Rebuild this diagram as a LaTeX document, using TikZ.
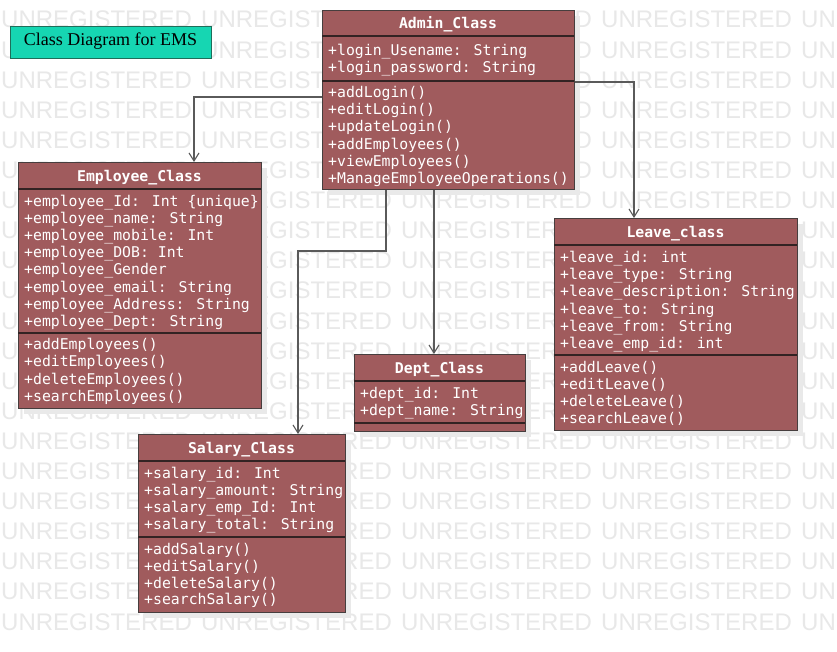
\documentclass[tikz,border=0pt]{standalone}
\usepackage{fontspec}
\setmainfont{Liberation Serif}
\newfontfamily\monofont{DejaVu Sans Mono}
\newfontfamily\wmfont{Liberation Sans}
\usetikzlibrary{arrows.meta}
\definecolor{classfill}{RGB}{160,91,93}
\definecolor{classedge}{RGB}{70,62,62}
\definecolor{sepline}{RGB}{50,35,35}
\definecolor{titlefill}{RGB}{22,214,178}
\definecolor{titleedge}{RGB}{30,110,90}
\definecolor{wmgray}{RGB}{232,232,232}
\definecolor{shadowgray}{RGB}{233,233,233}
\definecolor{connline}{RGB}{90,90,90}
\tikzset{
  classbox/.style={draw=classedge, line width=1.4pt, fill=classfill, rectangle, inner sep=0pt, anchor=north west},
  sepl/.style={draw=sepline, line width=2pt},
  membertxt/.style={anchor=base west, inner sep=0pt, yshift=-1.5pt, text=white, font=\monofont\fontsize{14.8}{17}\selectfont},
  classtitle/.style={anchor=base, inner sep=0pt, yshift=-1.5pt, text=white, font=\monofont\bfseries\fontsize{14.8}{17}\selectfont},
  conn/.style={draw=connline, line width=1.3pt, -{Straight Barb[length=8pt,width=10pt,line width=1.1pt]}},
  wm/.style={anchor=base west, inner sep=0pt, text=wmgray, font=\wmfont\fontsize{24}{24}\selectfont},
}
\begin{document}
\begin{tikzpicture}[x=1pt,y=-1pt]
\useasboundingbox (0,0) rectangle (837,652);
\fill[white] (0,0) rectangle (837,652);
% watermark
\begin{scope}
\clip (0,0) rectangle (837,652);
\foreach \r in {0,...,20}{
  \foreach \c in {0,...,4}{
    \node[wm] (wm-\r-\c) at ({1+200*\c},{28+30.1*\r}) {UNREGISTERED};
  }
}
\end{scope}
% title
\node[draw=titleedge, line width=1.2pt, fill=titlefill, minimum width=201pt, minimum height=32pt, inner sep=0pt, anchor=north west] (title) at (9.5,26) {};
\node[anchor=base, inner sep=0pt, font=\fontsize{18}{20}\selectfont] (title-txt) at (110.5,46) {Class Diagram for EMS};

% Admin_Class
\fill[shadowgray] (328,16) rectangle (580,195);
\node[classbox, minimum width=252pt, minimum height=179pt] (admin) at (322,10) {};
\draw[sepl] (322,36) -- (574,36);
\draw[sepl] (322,81) -- (574,81);
\node[classtitle] (admin-t) at (448,27) {Admin\_Class};
\foreach \t [count=\i from 0] in {+login\_Usename: String,+login\_password: String}
  \node[membertxt] (admin-a\i) at (328,{54+17.5*\i}) {\t};
\foreach \t [count=\i from 0] in {+addLogin(),+editLogin(),+updateLogin(),+addEmployees(),+viewEmployees(),+ManageEmployeeOperations()}
  \node[membertxt] (admin-m\i) at (328,{96+17.2*\i}) {\t};

% Employee_Class
\fill[shadowgray] (24,168) rectangle (267,414);
\node[classbox, minimum width=243pt, minimum height=246pt] (emp) at (18,162) {};
\draw[sepl] (18,189) -- (261,189);
\draw[sepl] (18,333) -- (261,333);
\node[classtitle] (emp-t) at (139.5,180) {Employee\_Class};
\foreach \t [count=\i from 0] in {+employee\_Id: Int \{unique\},+employee\_name: String,+employee\_mobile: Int,+employee\_DOB: Int,+employee\_Gender,+employee\_email: String,+employee\_Address: String,+employee\_Dept: String}
  \node[membertxt] (emp-a\i) at (24,{205+17.1*\i}) {\t};
\foreach \t [count=\i from 0] in {+addEmployees(),+editEmployees(),+deleteEmployees(),+searchEmployees()}
  \node[membertxt] (emp-m\i) at (24,{348+17.3*\i}) {\t};

% Leave_class
\fill[shadowgray] (560,224) rectangle (803,436);
\node[classbox, minimum width=243pt, minimum height=212pt] (leave) at (554,218) {};
\draw[sepl] (554,245) -- (797,245);
\draw[sepl] (554,355) -- (797,355);
\node[classtitle] (leave-t) at (675.5,236) {Leave\_class};
\foreach \t [count=\i from 0] in {+leave\_id: int,+leave\_type: String,+leave\_description: String,+leave\_to: String,+leave\_from: String,+leave\_emp\_id: int}
  \node[membertxt] (leave-a\i) at (560,{261+17.2*\i}) {\t};
\foreach \t [count=\i from 0] in {+addLeave(),+editLeave(),+deleteLeave(),+searchLeave()}
  \node[membertxt] (leave-m\i) at (560,{371+17*\i}) {\t};

% Dept_Class
\fill[shadowgray] (360,360) rectangle (531,437);
\node[classbox, minimum width=171pt, minimum height=77pt] (dept) at (354,354) {};
\draw[sepl] (354,381) -- (525,381);
\draw[sepl] (354,423) -- (525,423);
\node[classtitle] (dept-t) at (439.5,372) {Dept\_Class};
\foreach \t [count=\i from 0] in {+dept\_id: Int,+dept\_name: String}
  \node[membertxt] (dept-a\i) at (360,{397+17*\i}) {\t};

% Salary_Class
\fill[shadowgray] (144,440) rectangle (351,618);
\node[classbox, minimum width=207pt, minimum height=178pt] (salary) at (138,434) {};
\draw[sepl] (138,461) -- (345,461);
\draw[sepl] (138,537) -- (345,537);
\node[classtitle] (salary-t) at (241.5,452) {Salary\_Class};
\foreach \t [count=\i from 0] in {+salary\_id: Int,+salary\_amount: String,+salary\_emp\_Id: Int,+salary\_total: String}
  \node[membertxt] (salary-a\i) at (144,{477+17*\i}) {\t};
\foreach \t [count=\i from 0] in {+addSalary(),+editSalary(),+deleteSalary(),+searchSalary()}
  \node[membertxt] (salary-m\i) at (144,{553+16.8*\i}) {\t};

% connectors
\coordinate (k1) at (194,97);
\draw[conn] (admin.west |- k1) -- (k1) -- (emp.north -| k1);
\coordinate (k2) at (634,82);
\draw[conn] (admin.east |- k2) -- (k2) -- (leave.north -| k2);
\coordinate (k3a) at (386,251);
\coordinate (k3b) at (298,251);
\draw[conn] (admin.south -| k3a) -- (k3a) -- (k3b) -- (salary.north -| k3b);
\coordinate (k4) at (434,300);
\draw[conn] (admin.south -| k4) -- (dept.north -| k4);
\end{tikzpicture}
\end{document}
